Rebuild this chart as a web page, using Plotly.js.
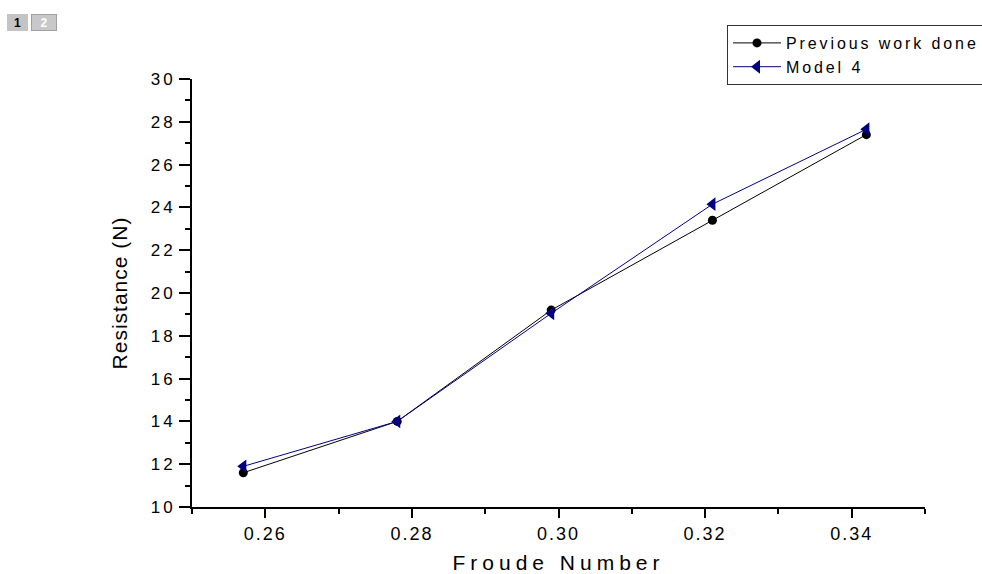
<!DOCTYPE html>
<html>
<head>
<meta charset="utf-8">
<script src="https://cdn.plot.ly/plotly-3.0.1.min.js"></script>
<style>
  html, body { margin: 0; padding: 0; background: #fff; }
  #chart { width: 982px; height: 574px; }
  .xtick text { letter-spacing: 2px; }
  .ytick text { letter-spacing: 3px; }
  text.xtitle { letter-spacing: 5px; }
  text.ytitle { letter-spacing: 1px; }
  text.legendtext { letter-spacing: 2.9px; }
</style>
</head>
<body>
<div id="chart"></div>
<script>
// ---- data ----
var froude = [0.257, 0.278, 0.299, 0.321, 0.342];
var previousWork = [11.6, 14.0, 19.2, 23.4, 27.4];
var model4 = [11.9, 14.0, 19.05, 24.15, 27.65];
var seriesNames = ['Previous work done', 'Model 4'];
var xTitle = 'Froude Number';
var yTitle = 'Resistance (N)';
var xTickVals = [0.26, 0.28, 0.30, 0.32, 0.34];
var xTickText = ['0.26', '0.28', '0.30', '0.32', '0.34'];
var pageTabs = ['1', '2'];

// ---- layout helpers (pixel -> paper) ----
var W = 982, H = 574;
var M = {l: 192, r: 57, t: 79, b: 67, autoexpand: false};
var pw = W - M.l - M.r, ph = H - M.t - M.b;
function px(x) { return (x - M.l) / pw; }
function py(y) { return (H - M.b - y) / ph; }

var FONT = 'Liberation Sans, Arial, sans-serif';

var traces = [
  {
    x: froude, y: previousWork, name: seriesNames[0],
    type: 'scatter', mode: 'lines+markers',
    line: {color: '#000000', width: 1},
    marker: {symbol: 'circle', size: 9, color: '#000000'}
  },
  {
    x: froude, y: model4, name: seriesNames[1],
    type: 'scatter', mode: 'lines+markers',
    line: {color: '#000080', width: 1},
    marker: {symbol: 'triangle-left', size: 12, color: '#000080'}
  }
];

var layout = {
  width: W, height: H,
  margin: M,
  paper_bgcolor: '#ffffff',
  plot_bgcolor: '#ffffff',
  font: {family: FONT, color: '#000000'},
  showlegend: true,
  legend: {
    x: px(727), y: py(25), xanchor: 'left', yanchor: 'top',
    bgcolor: '#ffffff', bordercolor: '#333333', borderwidth: 1,
    font: {family: FONT, size: 16, color: '#000000'},
    itemwidth: 48, tracegroupgap: 0
  },
  xaxis: {
    range: [0.25, 0.35],
    tickvals: xTickVals,
    ticktext: xTickText,
    ticks: 'outside', ticklen: 9, tickwidth: 2, tickcolor: '#000',
    minor: {dtick: 0.01, tick0: 0.25, ticks: 'outside', ticklen: 5, tickwidth: 2, tickcolor: '#000', showgrid: false},
    showline: true, linecolor: '#000', linewidth: 2,
    showgrid: false, zeroline: false,
    tickfont: {family: FONT, size: 18, color: '#000'},
    title: {text: xTitle, font: {family: FONT, size: 21, color: '#000'}, standoff: 14}
  },
  yaxis: {
    range: [10, 30],
    dtick: 2, tick0: 10,
    ticks: 'outside', ticklen: 11, tickwidth: 2, tickcolor: '#000',
    minor: {dtick: 1, ticks: 'outside', ticklen: 5, tickwidth: 2, tickcolor: '#000', showgrid: false},
    showline: true, linecolor: '#000', linewidth: 2,
    showgrid: false, zeroline: false,
    tickfont: {family: FONT, size: 17, color: '#000'},
    title: {text: yTitle, font: {family: FONT, size: 21, color: '#000'}, standoff: 17}
  },
  annotations: [
    {
      xref: 'paper', yref: 'paper', x: px(17.5), y: py(22),
      xanchor: 'center', yanchor: 'middle', showarrow: false,
      text: '<b>' + pageTabs[0] + '</b>', width: 19, height: 15,
      bgcolor: '#c4c4c4', bordercolor: '#c4c4c4', borderwidth: 1, borderpad: 0,
      font: {family: FONT, size: 12, color: '#000'}
    },
    {
      xref: 'paper', yref: 'paper', x: px(44), y: py(22),
      xanchor: 'center', yanchor: 'middle', showarrow: false,
      text: '<b>' + pageTabs[1] + '</b>', width: 24, height: 15,
      bgcolor: '#c8c8c8', bordercolor: '#a0a0a0', borderwidth: 1, borderpad: 0,
      font: {family: FONT, size: 12, color: '#ffffff'}
    }
  ]
};

Plotly.newPlot('chart', traces, layout, {displayModeBar: false, staticPlot: true});
</script>
</body>
</html>
